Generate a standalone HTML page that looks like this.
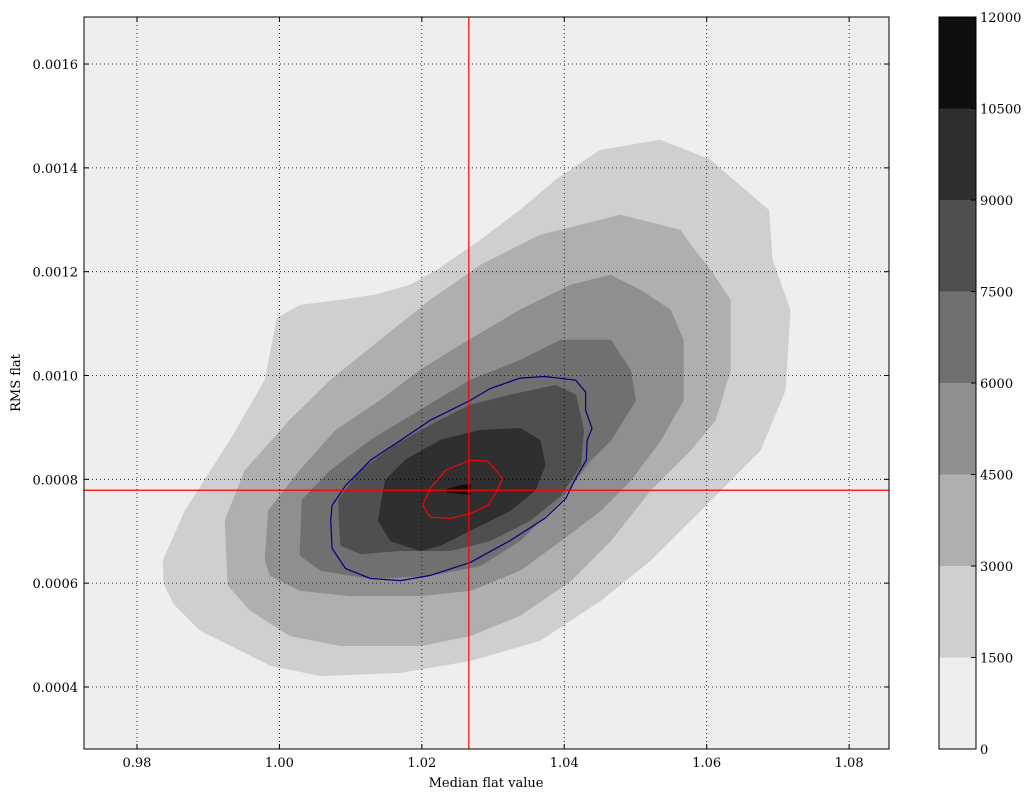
<!DOCTYPE html>
<html><head><meta charset="utf-8"><style>
html,body{margin:0;padding:0;background:#fff;}
svg{display:block;font-family:"DejaVu Serif","Liberation Serif",serif;font-size:13px;}
</style></head><body>
<svg id="chart" width="1032" height="800" viewBox="0 0 1032 800" xmlns="http://www.w3.org/2000/svg">
<rect x="0" y="0" width="1032" height="800" fill="#fff"/>
<g id="plot"></g>
<g id="axes"></g>
<g id="cbar"></g>
<text x="486" y="787" text-anchor="middle">Median flat value</text>
<text transform="translate(20,383) rotate(-90)" text-anchor="middle">RMS flat</text>
</svg>
<script>
// ---- data (x = median flat value, y = RMS flat in units of 1e-4) ----
const xTicks = [0.98, 1.00, 1.02, 1.04, 1.06, 1.08];
const xTickLabels = ["0.98", "1.00", "1.02", "1.04", "1.06", "1.08"];
const yTicks = [4, 6, 8, 10, 12, 14, 16];
const yTickLabels = ["0.0004", "0.0006", "0.0008", "0.0010", "0.0012", "0.0014", "0.0016"];
const cbarLevels = [0, 1500, 3000, 4500, 6000, 7500, 9000, 10500, 12000];
const cbarLabels = ["0", "1500", "3000", "4500", "6000", "7500", "9000", "10500", "12000"];
const levelColors = ["#eeeeee", "#cfcfcf", "#afafaf", "#8f8f8f", "#707070", "#4f4f4f", "#2f2f2f", "#0f0f0f"];
const refX = 1.0266;
const refY = 7.79;
const level1 = [[0.9837,6.44],[0.9868,7.40],[0.9931,8.75],[0.9980,9.91],[0.9997,11.10],[1.0029,11.35],[1.0086,11.45],[1.0135,11.55],[1.0184,11.74],[1.0226,12.07],[1.0282,12.60],[1.0338,13.18],[1.0388,13.76],[1.0451,14.34],[1.0535,14.53],[1.0605,14.15],[1.0654,13.57],[1.0687,13.18],[1.0692,12.22],[1.0717,11.26],[1.0710,9.71],[1.0675,8.56],[1.0591,7.40],[1.0521,6.44],[1.0451,5.67],[1.0366,4.90],[1.0268,4.51],[1.0170,4.28],[1.0058,4.22],[0.9987,4.42],[0.9889,5.09],[0.9852,5.60],[0.9838,6.00]];
const level2 = [[0.9928,5.96],[0.9924,7.21],[0.9952,8.17],[1.0015,9.14],[1.0072,9.91],[1.0142,10.68],[1.0212,11.45],[1.0282,12.12],[1.0366,12.70],[1.0451,12.99],[1.0479,13.09],[1.0563,12.80],[1.0577,12.51],[1.0605,12.03],[1.0633,11.45],[1.0633,10.10],[1.0612,9.14],[1.0577,8.56],[1.0521,7.79],[1.0465,6.82],[1.0409,6.05],[1.0338,5.38],[1.0268,4.99],[1.0198,4.80],[1.0086,4.80],[1.0015,4.99],[0.9959,5.48]];
const level3 = [[0.9980,6.44],[0.9985,7.40],[1.0029,8.17],[1.0079,8.94],[1.0142,9.52],[1.0198,10.10],[1.0254,10.58],[1.0338,11.26],[1.0409,11.74],[1.0465,11.93],[1.0507,11.64],[1.0549,11.26],[1.0567,10.68],[1.0567,9.52],[1.0535,8.75],[1.0493,7.98],[1.0451,7.40],[1.0395,6.82],[1.0338,6.25],[1.0268,5.86],[1.0198,5.76],[1.0100,5.76],[1.0029,5.86],[0.9987,6.15]];
const level4 = [[1.0029,6.54],[1.0032,7.60],[1.0072,8.17],[1.0128,8.75],[1.0198,9.33],[1.0268,9.91],[1.0338,10.29],[1.0395,10.68],[1.0465,10.68],[1.0493,10.10],[1.0500,9.52],[1.0465,8.75],[1.0437,8.37],[1.0395,7.60],[1.0338,6.82],[1.0282,6.34],[1.0212,6.15],[1.0128,6.09],[1.0058,6.25]];
const level5 = [[1.0086,6.73],[1.0083,7.60],[1.0114,8.17],[1.0163,8.66],[1.0212,9.04],[1.0268,9.43],[1.0324,9.62],[1.0388,9.81],[1.0416,9.62],[1.0427,8.94],[1.0423,8.27],[1.0395,7.69],[1.0352,7.21],[1.0296,6.82],[1.0240,6.63],[1.0170,6.63],[1.0114,6.57]];
const level6 = [[1.0139,7.21],[1.0149,7.98],[1.0177,8.37],[1.0226,8.75],[1.0282,8.94],[1.0338,8.98],[1.0366,8.75],[1.0373,8.27],[1.0359,7.79],[1.0324,7.40],[1.0268,7.02],[1.0226,6.73],[1.0198,6.63],[1.0156,6.82]];
const level7 = [[1.0233,7.79],[1.0254,7.88],[1.0268,7.90],[1.0268,7.71],[1.0236,7.75]];
const blueContour = [[1.0072,7.21],[1.0074,7.50],[1.0093,7.88],[1.0128,8.37],[1.0170,8.75],[1.0212,9.14],[1.0268,9.52],[1.0296,9.75],[1.0338,9.95],[1.0373,9.98],[1.0416,9.91],[1.0430,9.68],[1.0430,9.33],[1.0439,8.98],[1.0432,8.75],[1.0431,8.37],[1.0416,8.02],[1.0402,7.63],[1.0373,7.25],[1.0324,6.82],[1.0268,6.40],[1.0212,6.15],[1.0170,6.05],[1.0128,6.09],[1.0093,6.28],[1.0074,6.67]];
const redContour = [[1.0201,7.50],[1.0212,7.83],[1.0233,8.17],[1.0268,8.37],[1.0293,8.35],[1.0313,8.02],[1.0306,7.79],[1.0293,7.50],[1.0268,7.34],[1.0240,7.25],[1.0212,7.27]];

// ---- axes ----
const L = 84, R = 889, T = 17, B = 749;
const xMin = 0.97256, xMax = 1.0856, yMin = 2.8054, yMax = 16.906;
const xs = v => L + (v - xMin) / (xMax - xMin) * (R - L);
const ys = v => B - (v - yMin) / (yMax - yMin) * (B - T);
const NS = "http://www.w3.org/2000/svg";
function mk(tag, attrs, parent) { const e = document.createElementNS(NS, tag); for (const k in attrs) e.setAttribute(k, attrs[k]); parent.appendChild(e); return e; }
const plot = document.getElementById('plot'), axes = document.getElementById('axes'), cbar = document.getElementById('cbar');
const bg = mk('rect', {x: L, y: T, width: R - L, height: B - T, fill: levelColors[0]}, plot);


const levels = [level1, level2, level3, level4, level5, level6, level7];
levels.forEach((pts, i) => {
  const d = pts.map((p, j) => (j ? 'L' : 'M') + xs(p[0]).toFixed(1) + ',' + ys(p[1]).toFixed(1)).join('') + 'Z';
  const p = mk('path', {d: d, fill: levelColors[i + 1], stroke: levelColors[i + 1], 'stroke-width': 1, 'stroke-linejoin': 'round'}, plot);
  
  
});
[[blueContour, '#000080', 'blue-contour-line'], [redContour, '#ff0000', 'red-contour-line']].forEach(([pts, c, n]) => {
  const d = pts.map((p, j) => (j ? 'L' : 'M') + xs(p[0]).toFixed(1) + ',' + ys(p[1]).toFixed(1)).join('') + 'Z';
  const p = mk('path', {d: d, fill: 'none', stroke: c, 'stroke-width': 1.2}, plot);
  
  
});
xTicks.forEach((t, i) => {
  const x = xs(t);
  const g = mk('line', {x1: x, x2: x, y1: T, y2: B, stroke: '#000', 'stroke-width': 0.8, 'stroke-dasharray': '1,3'}, axes);
  
  
  mk('line', {x1: x, x2: x, y1: B, y2: B - 5, stroke: '#000'}, axes);
  mk('line', {x1: x, x2: x, y1: T, y2: T + 5, stroke: '#000'}, axes);
  const tx = mk('text', {x: x, y: B + 18, 'text-anchor': 'middle'}, axes);
  tx.textContent = xTickLabels[i];
  
  
});
yTicks.forEach((t, i) => {
  const y = ys(t);
  const g = mk('line', {x1: L, x2: R, y1: y, y2: y, stroke: '#000', 'stroke-width': 0.8, 'stroke-dasharray': '1,3'}, axes);
  
  
  mk('line', {x1: L, x2: L + 5, y1: y, y2: y, stroke: '#000'}, axes);
  mk('line', {x1: R, x2: R - 5, y1: y, y2: y, stroke: '#000'}, axes);
  const tx = mk('text', {x: L - 6, y: y + 5, 'text-anchor': 'end'}, axes);
  tx.textContent = yTickLabels[i];
  
  
});
const vl = mk('line', {x1: xs(refX), x2: xs(refX), y1: T, y2: B, stroke: '#ff0000', 'stroke-width': 1.2}, axes);


const hl = mk('line', {x1: L, x2: R, y1: ys(refY), y2: ys(refY), stroke: '#ff0000', 'stroke-width': 1.2}, axes);


const fr = mk('rect', {x: L, y: T, width: R - L, height: B - T, fill: 'none', stroke: '#000', 'stroke-width': 1}, axes);


// ---- colorbar ----
const CL = 939, CR = 976;
const cs = v => B - (v - cbarLevels[0]) / (cbarLevels[cbarLevels.length - 1] - cbarLevels[0]) * (B - T);
for (let i = 0; i < levelColors.length; i++) {
  const r = mk('rect', {x: CL, y: cs(cbarLevels[i + 1]), width: CR - CL, height: cs(cbarLevels[i]) - cs(cbarLevels[i + 1]), fill: levelColors[i]}, cbar);
  
  
}
cbarLevels.forEach((v, i) => {
  const y = cs(v);
  mk('line', {x1: CR, x2: CR - 5, y1: y, y2: y, stroke: '#000'}, cbar);
  const tx = mk('text', {x: CR + 4, y: y + 5}, cbar);
  tx.textContent = cbarLabels[i];
  
  
});
const cf = mk('rect', {x: CL, y: T, width: CR - CL, height: B - T, fill: 'none', stroke: '#000'}, cbar);


</script>
</body></html>
